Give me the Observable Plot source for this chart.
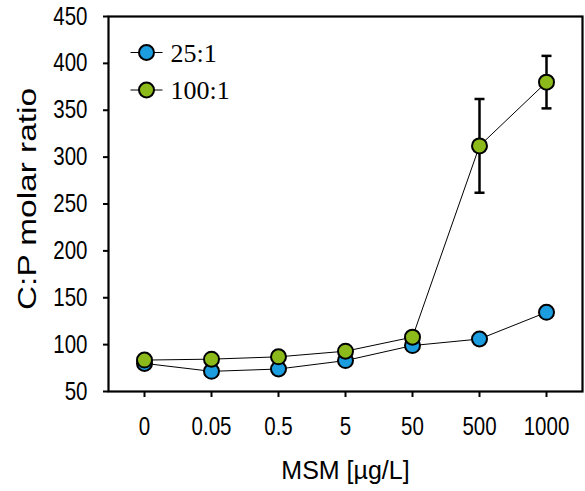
<!DOCTYPE html>
<html>
<head>
<meta charset="utf-8">
<script src="https://cdn.jsdelivr.net/npm/d3@7"></script>
<script src="https://cdn.jsdelivr.net/npm/@observablehq/plot@0.6"></script>
<style>
  html, body { margin: 0; padding: 0; background: white; }
  #chart { width: 585px; height: 491px; }
</style>
</head>
<body>
<div id="chart"></div>
<script>
const categories = ["0", "0.05", "0.5", "5", "50", "500", "1000"];
const ratio25 = [80, 71.5, 74, 83, 99, 106, 134.5];
const ratio100 = [83.5, 84.5, 87, 93, 108, 312, 380];
const err100 = [null, null, null, null, null, 50, 28];
const seriesNames = ["25:1", "100:1"];
const seriesColors = ["#1c9de0", "#8cba1a"];
const yTicks = [50, 100, 150, 200, 250, 300, 350, 400, 450];
const xTitle = "MSM [µg/L]";
const yTitle = "C:P molar ratio";

const rows25 = categories.map((c, i) => ({cat: c, v: ratio25[i]}));
const rows100 = categories.map((c, i) => ({cat: c, v: ratio100[i], e: err100[i]}));
const errRows = rows100.filter(d => d.e != null);

const hline = (hw) => ({draw(ctx) { ctx.moveTo(-hw, 0); ctx.lineTo(hw, 0); }});

const tickFont = "'Liberation Sans', Arial, sans-serif";
const titleFont = "'Liberation Sans', Arial, sans-serif";
const legendFont = "'Liberation Serif', 'Times New Roman', serif";

const legendMarks = seriesNames.flatMap((name, i) => {
  const dy = 36 + i * 37.5;
  return [
    Plot.dot([name], {frameAnchor: "top-left", dx: 38, dy, symbol: hline(16), stroke: "black", strokeWidth: 1, r: 5}),
    Plot.dot([name], {frameAnchor: "top-left", dx: 38, dy, r: 7.5, fill: seriesColors[i], stroke: "black", strokeWidth: 2}),
    Plot.text([name], {frameAnchor: "top-left", dx: 62, dy: dy + 1, text: d => d, textAnchor: "start", lineAnchor: "middle", fontFamily: legendFont, fontSize: 26, fill: "black"})
  ];
});

const chart = Plot.plot({
  width: 585,
  height: 491,
  marginLeft: 108,
  marginRight: 3,
  marginTop: 16,
  marginBottom: 100,
  style: {background: "white", color: "black"},
  x: {type: "point", domain: categories, padding: 0.5, label: null},
  y: {domain: [50, 450], label: null},
  marks: [
    Plot.axisX({tickSize: 6, tickPadding: 20, strokeWidth: 2, fontSize: 25, fontFamily: tickFont, label: null}),
    Plot.axisY({ticks: yTicks, tickSize: 5, tickPadding: 16, strokeWidth: 2, fontSize: 25, fontFamily: tickFont, label: null}),
    Plot.frame({stroke: "black", strokeWidth: 2.2}),
    Plot.line(rows25, {x: "cat", y: "v", stroke: "black", strokeWidth: 1}),
    Plot.line(rows100, {x: "cat", y: "v", stroke: "black", strokeWidth: 1}),
    Plot.ruleX(errRows, {x: "cat", y1: d => d.v - d.e, y2: d => d.v + d.e, stroke: "black", strokeWidth: 2.5}),
    Plot.dot(errRows, {x: "cat", y: d => d.v + d.e, symbol: hline(5), r: 3, stroke: "black", strokeWidth: 2.5}),
    Plot.dot(errRows, {x: "cat", y: d => d.v - d.e, symbol: hline(5), r: 3, stroke: "black", strokeWidth: 2.5}),
    Plot.dot(rows25, {x: "cat", y: "v", r: 7.5, fill: seriesColors[0], stroke: "black", strokeWidth: 2}),
    Plot.dot(rows100, {x: "cat", y: "v", r: 7.5, fill: seriesColors[1], stroke: "black", strokeWidth: 2}),
    ...legendMarks,
    Plot.text([xTitle], {frameAnchor: "bottom", dy: 87, text: d => d, lineAnchor: "bottom", fontFamily: titleFont, fontSize: 25, fill: "black"}),
    Plot.text([yTitle], {frameAnchor: "left", dx: -73, dy: 106, text: d => d, rotate: -90, textAnchor: "start", lineAnchor: "bottom", fontFamily: titleFont, fontSize: 25, fill: "black", className: "ytitle"})
  ]
});

document.getElementById("chart").appendChild(chart);

// Stretch the y-axis title along its length, as in the reference
const yt = chart.querySelector(".ytitle text");
if (yt) {
  yt.setAttribute("textLength", "222");
  yt.setAttribute("lengthAdjust", "spacingAndGlyphs");
}

// Condense tick labels horizontally (narrow face in the reference)
const svgNS = "http://www.w3.org/2000/svg";
[["x", "center"], ["y", "right center"]].forEach(([axis, origin]) => {
  chart.querySelectorAll(`g[aria-label="${axis}-axis tick label"] text`).forEach(t => {
    const g = document.createElementNS(svgNS, "g");
    const tr = t.getAttribute("transform");
    if (tr) { g.setAttribute("transform", tr); t.removeAttribute("transform"); }
    t.parentNode.insertBefore(g, t);
    g.appendChild(t);
    t.style.transformBox = "fill-box";
    t.style.transformOrigin = origin;
    t.style.transform = "scaleX(0.82)";
  });
});
</script>
</body>
</html>
